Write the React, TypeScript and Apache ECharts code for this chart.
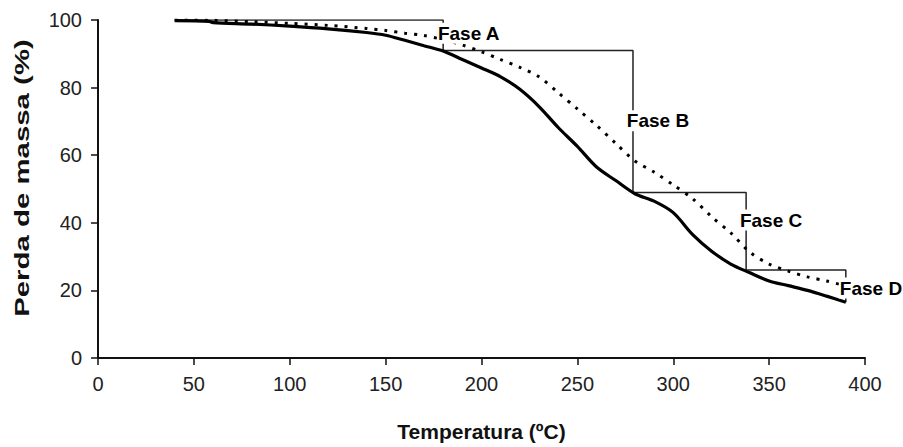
import React, { useEffect, useRef } from "react";
import * as echarts from "echarts";

const xTicks = [0, 50, 100, 150, 200, 250, 300, 350, 400];
const yTicks = [0, 20, 40, 60, 80, 100];

const solidX = [40, 58, 60, 80, 100, 120, 140, 150, 160, 170, 180, 190, 200, 210, 220, 230, 240, 250, 260, 270, 280, 290, 300, 310, 320, 330, 340, 350, 360, 370, 380, 390];
const solidY = [99.8, 99.6, 99.2, 98.8, 98.2, 97.4, 96.3, 95.5, 94.0, 92.4, 90.8, 88.3, 85.8, 83.2, 79.5, 74.4, 68.2, 62.6, 56.5, 52.5, 48.6, 46.4, 43.0, 36.6, 31.6, 27.8, 25.2, 22.8, 21.4, 20.0, 18.3, 16.5];

const dottedX = [40, 60, 80, 100, 120, 140, 150, 160, 170, 180, 190, 200, 210, 220, 230, 240, 250, 260, 270, 280, 290, 300, 310, 320, 330, 340, 350, 360, 370, 380, 390];
const dottedY = [100, 99.9, 99.5, 99.0, 98.4, 97.5, 96.9, 96.1, 95.4, 94.2, 92.6, 90.6, 88.3, 86.0, 83.2, 78.5, 73.7, 68.8, 63.5, 58.3, 55.0, 51.2, 47.2, 41.8, 37.0, 31.3, 27.8, 25.7, 24.0, 22.8, 21.3];

// phase boundaries: temperatures and mass levels
const phaseBoundX = [40, 180, 279, 338, 390];
const phaseLevelY = [100, 91, 49, 26, 16.5];

const phaseNames = ["Fase A", "Fase B", "Fase C", "Fase D"];
const phaseLabelX = [176.5, 275.0, 334.0, 386.1];
const phaseLabelY = [96.1, 70.2, 40.8, 20.7];

const FONT = "'Liberation Sans', Arial, sans-serif";

export default function App() {
  const ref = useRef<HTMLDivElement>(null);
  useEffect(() => {
    if (!ref.current) return;
    const chart = echarts.init(ref.current, undefined, { renderer: "svg" });

    const bracket: (number[] | null)[] = [];
    for (let i = 0; i < phaseNames.length; i++) {
      bracket.push([phaseBoundX[i], phaseLevelY[i]]);
      bracket.push([phaseBoundX[i + 1], phaseLevelY[i]]);
      bracket.push([phaseBoundX[i + 1], phaseLevelY[i + 1]]);
    }

    chart.setOption({
      animation: false,
      backgroundColor: "#ffffff",
      grid: { left: 98, right: 38, top: 20, bottom: 84, containLabel: false },
      xAxis: {
        type: "value",
        min: 0,
        max: 400,
        interval: 50,
        name: "Temperatura (ºC)",
        nameLocation: "middle",
        nameGap: 63,
        nameTextStyle: { fontFamily: FONT, fontSize: 21, fontWeight: "bold", color: "#111" },
        axisLine: { show: true, lineStyle: { color: "#111", width: 2 } },
        axisTick: { show: true, length: 7, lineStyle: { color: "#111", width: 1.5 } },
        axisLabel: { fontFamily: FONT, fontSize: 20, color: "#222", margin: 16, formatter: (v: number) => (xTicks.includes(v) ? String(v) : "") },
        splitLine: { show: false },
      },
      yAxis: {
        type: "value",
        min: 0,
        max: 100,
        interval: 20,
        axisLine: { show: true, lineStyle: { color: "#111", width: 2 } },
        axisTick: { show: true, length: 7, lineStyle: { color: "#111", width: 1.5 } },
        axisLabel: { fontFamily: FONT, fontSize: 20, color: "#222", margin: 16, formatter: (v: number) => (yTicks.includes(v) ? String(v) : "") },
        splitLine: { show: false },
      },
      graphic: [
        {
          type: "text",
          x: 22,
          y: 178,
          rotation: Math.PI / 2,
          scaleX: 1.4,
          style: {
            text: "Perda de massa (%)",
            fontFamily: FONT,
            fontSize: 21,
            fontWeight: "bold",
            fill: "#111",
            textAlign: "center",
            textVerticalAlign: "middle",
          },
        },
      ],
      series: [
        {
          type: "line",
          name: "phases",
          data: bracket,
          symbol: "none",
          z: 2,
          lineStyle: { color: "#222", width: 1.5 },
        },
        {
          type: "line",
          name: "dotted",
          data: dottedX.map((x, i) => [x, dottedY[i]]),
          symbol: "none",
          smooth: 0.3,
          z: 3,
          lineStyle: { color: "#000", width: 3, type: [3, 7], cap: "butt" },
        },
        {
          type: "line",
          name: "solid",
          data: solidX.map((x, i) => [x, solidY[i]]),
          symbol: "none",
          smooth: 0.3,
          z: 4,
          lineStyle: { color: "#000", width: 3.2 },
        },
        {
          type: "scatter",
          name: "labels",
          z: 10,
          symbolSize: 1,
          itemStyle: { color: "#ffffff", opacity: 1 },
          data: phaseNames.map((n, i) => ({ value: [phaseLabelX[i], phaseLabelY[i]], name: n })),
          label: {
            show: true,
            position: "right",
            distance: 0,
            formatter: (p: any) => p.name,
            fontFamily: FONT,
            fontSize: 19,
            fontWeight: "bold",
            color: "#000",
            opacity: 1,
            backgroundColor: "#ffffff",
            padding: [1, 1],
          },
        },
      ],
    });
    return () => chart.dispose();
  }, []);
  return <div ref={ref} style={{ position: "absolute", left: 0, top: 0, width: 903, height: 447 }} />;
}
